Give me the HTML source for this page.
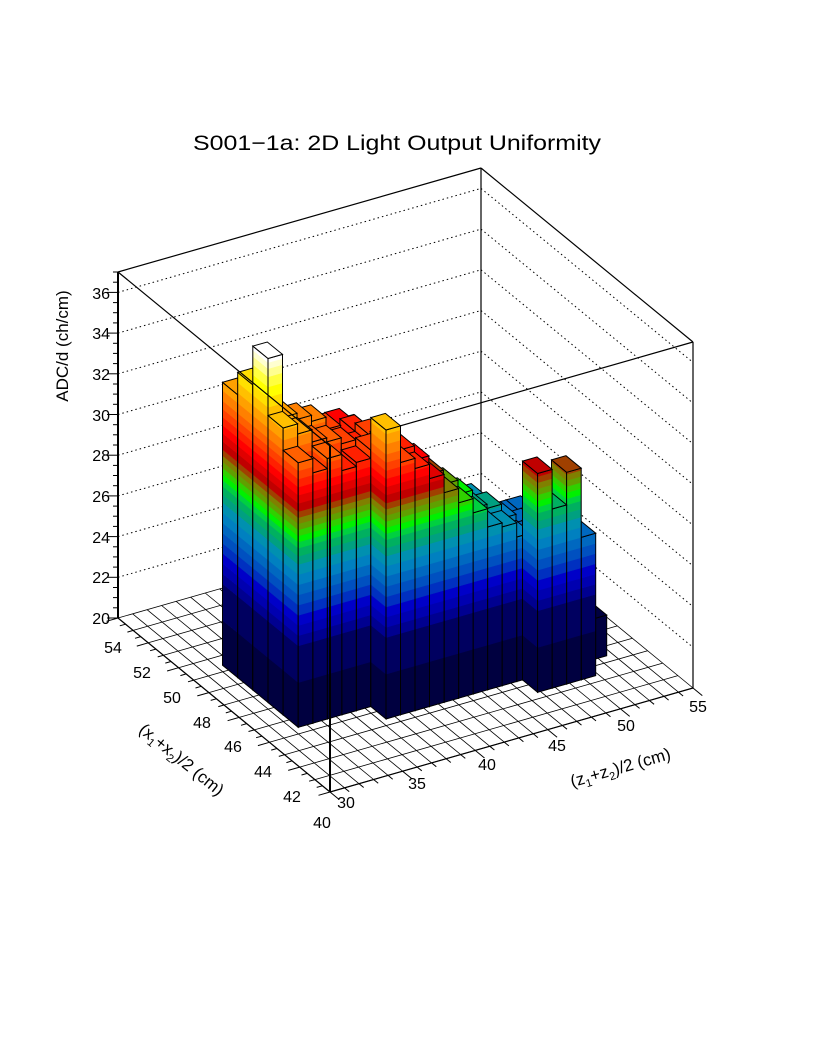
<!DOCTYPE html>
<html><head><meta charset="utf-8"><style>
html,body{margin:0;padding:0;background:#fff;}
svg{display:block;}
text{font-family:"Liberation Sans","DejaVu Sans",sans-serif;fill:#000;}
</style></head><body>
<svg id="s" width="816" height="1056" viewBox="0 0 816 1056" xmlns="http://www.w3.org/2000/svg">
<rect width="816" height="1056" fill="#fff"/>
<text x="397" y="150" font-size="21" text-anchor="middle" textLength="408" lengthAdjust="spacingAndGlyphs">S001−1a: 2D Light Output Uniformity</text>
<g id="back"></g>
<g id="bars"></g>
<g id="front"></g>
<g font-size="16" text-anchor="end">
<text x="110" y="624">20</text><text x="110" y="583">22</text><text x="110" y="543">24</text><text x="110" y="502">26</text><text x="110" y="461">28</text><text x="110" y="421">30</text><text x="110" y="380">32</text><text x="110" y="339">34</text><text x="110" y="299">36</text>
</g>
<text transform="translate(68,346) rotate(-90)" font-size="17" text-anchor="middle">ADC/d (ch/cm)</text>
<g font-size="16" text-anchor="middle">
<text x="113" y="653">54</text><text x="142" y="678">52</text><text x="172" y="703">50</text><text x="202" y="728">48</text><text x="233" y="752">46</text><text x="263" y="777">44</text><text x="292" y="802">42</text><text x="322" y="828">40</text>
<text x="346" y="808">30</text><text x="417" y="789">35</text><text x="487" y="770">40</text><text x="557" y="751">45</text><text x="626" y="731">50</text><text x="698" y="712">55</text>
</g>
<text transform="translate(178,764) rotate(39)" font-size="17" text-anchor="middle">(x<tspan font-size="11" dy="4">1</tspan><tspan dy="-4">+x</tspan><tspan font-size="11" dy="4">2</tspan><tspan dy="-4">)/2 (cm)</tspan></text>
<text transform="translate(622,773) rotate(-16)" font-size="17" text-anchor="middle">(z<tspan font-size="11" dy="4">1</tspan><tspan dy="-4">+z</tspan><tspan font-size="11" dy="4">2</tspan><tspan dy="-4">)/2 (cm)</tspan></text>
</svg>
<script>
function P(x,y,z){return [330+14.52*(x-30)-15.14*(y-40), 792-4.16*(x-30)-12.43*(y-40)-20.35*(z-20)];}
function pt(a){return a[0].toFixed(1)+','+a[1].toFixed(1);}
function line(a,b,w,dash){return '<line x1="'+a[0].toFixed(1)+'" y1="'+a[1].toFixed(1)+'" x2="'+b[0].toFixed(1)+'" y2="'+b[1].toFixed(1)+'" stroke="#000" stroke-width="'+(w||1)+'"'+(dash?' stroke-dasharray="'+dash+'"':'')+'/>';}
var back='';
for(var x=30;x<=55;x++) back+=line(P(x,40,20),P(x,54,20),0.8);
for(var y=40;y<=54;y++) back+=line(P(30,y,20),P(55,y,20),0.8);
for(var z=22;z<=36;z+=2){back+=line(P(30,54,z),P(55,54,z),1,'1.5,3');back+=line(P(55,54,z),P(55,40,z),1,'1.5,3');}
back+=line(P(30,54,20),P(30,54,37),2);
back+=line(P(55,54,20),P(55,54,37),1.2);
back+=line(P(55,40,20),P(55,40,37),1.2);
back+=line(P(30,54,37),P(55,54,37),1.2);
back+=line(P(55,54,37),P(55,40,37),1.2);
back+=line(P(30,40,37),P(55,40,37),1.2);
back+=line(P(30,40,20),P(55,40,20),1.2);
back+=line(P(30,40,20),P(30,54,20),1.2);
for(var z=20;z<=37.01;z+=0.5){var p=P(30,54,z);var L=(Math.abs(z-Math.round(z/2)*2)<0.01)?11:5;back+=line([p[0]-L,p[1]],p,1);}
var dx=-14.52,dy=4.16,n=Math.hypot(dx,dy);dx/=n;dy/=n;
for(var y=40;y<=54.01;y+=0.5){var p=P(30,y,20);var L=(Math.abs(y-Math.round(y/2)*2)<0.01)?12:6;back+=line(p,[p[0]+dx*L,p[1]+dy*L],1);}
var ex=15.14,ey=12.43,m=Math.hypot(ex,ey);ex/=m;ey/=m;
for(var x=30;x<=55;x++){var p=P(x,40,20);var L=(x%5==0)?12:6;back+=line(p,[p[0]+ex*L,p[1]+ey*L],1);}
document.getElementById('back').innerHTML=back;

var pal=[[20,'#000040'],[22.2,'#000060'],[24,'#000090'],[24.5,'#0000b0'],[25,'#0000c8'],[25.5,'#0030c0'],[26,'#0050c0'],[26.5,'#0068c0'],[27,'#0080c0'],[27.5,'#0090b0'],[28,'#00a080'],[28.4,'#00b060'],[28.8,'#00d040'],[29.1,'#00f000'],[29.4,'#30d000'],[29.7,'#60a000'],[30,'#808000'],[30.3,'#a04000'],[30.6,'#c00000'],[31,'#e00000'],[31.4,'#ff0000'],[31.8,'#ff2000'],[32.2,'#ff4000'],[32.6,'#ff6000'],[33,'#ff8000'],[33.5,'#ffa000'],[34,'#ffc000'],[34.5,'#ffe000'],[35,'#ffff00'],[35.5,'#ffff40'],[36,'#ffff90'],[36.4,'#ffffd0'],[36.7,'#ffffff']];
function col(z){var c=pal[0][1];for(var i=0;i<pal.length;i++){if(z>=pal[i][0]-1e-6)c=pal[i][1];}return c;}
var cells=[];
var A=[[33.0,34.1,36.9,35.0,33.9],[32.3,33.6,33.8,33.2,32.6],[32.8,33.0,33.5,32.8,31.3],[32.0,32.8,33.2,32.6,31.3],[32.2,32.5,32.6,32.2,31.3]];
for(var i=0;i<5;i++)for(var j=0;j<5;j++)cells.push([32.4+i,44.4+j,A[i][j]]);
var Bf=[34.2,32.4,31.9,31.2,30.3,29.6,28.9,28.0,27.8,27.1];
for(var i=0;i<10;i++)for(var j=0;j<5;j++){var h;if(i==0)h=[34.2,32.6,32.1,31.6,31.1][j];else h=Bf[i]+[0,0.3,0.1,-0.3,-0.6][j];cells.push([37.4+i,43.4+j,h]);}
var Cf=[[30.75,27.0,26.8,26.6],[28.8,27.0,26.8,26.6],[30.4,27.0,26.8,26.6],[27.0,26.9,26.7,26.5]];
for(var i=0;i<4;i++)for(var j=0;j<4;j++)cells.push([46.8+i,42.4+j,Cf[i][j]]);
cells.push([51.6,43.4,22.0]);cells.push([51.6,44.4,21.8]);
cells.sort(function(a,b){return (b[0]+b[1])-(a[0]+a[1]);});
function vface(p0x,p0y,p1x,p1y,h){
  var s='';var lv=[20];for(var k=1;k<pal.length;k++)if(pal[k][0]<h)lv.push(pal[k][0]);lv.push(h);
  for(var k=0;k<lv.length-1;k++){var z0=lv[k],z1=lv[k+1];
    s+='<polygon points="'+pt(P(p0x,p0y,z0))+' '+pt(P(p1x,p1y,z0))+' '+pt(P(p1x,p1y,z1))+' '+pt(P(p0x,p0y,z1))+'" fill="'+col(z0)+'" stroke="'+col(z0)+'" stroke-width="0.5"/>';}
  s+='<polygon points="'+pt(P(p0x,p0y,20))+' '+pt(P(p1x,p1y,20))+' '+pt(P(p1x,p1y,h))+' '+pt(P(p0x,p0y,h))+'" fill="none" stroke="#000" stroke-width="1"/>';
  return s;}
var bars='';
cells.forEach(function(c){var x=c[0],y=c[1],h=c[2];
  bars+=vface(x,y+1,x,y,h);
  bars+=vface(x,y,x+1,y,h);
  bars+='<polygon points="'+pt(P(x,y,h))+' '+pt(P(x+1,y,h))+' '+pt(P(x+1,y+1,h))+' '+pt(P(x,y+1,h))+'" fill="'+col(h-0.05)+'" stroke="#000" stroke-width="1"/>';
});
document.getElementById('bars').innerHTML=bars;
var fr='';
fr+=line(P(30,40,20),P(30,40,37),2);
fr+=line(P(30,54,37),P(30,40,37),1.2);
document.getElementById('front').innerHTML=fr;
</script>
</body></html>
